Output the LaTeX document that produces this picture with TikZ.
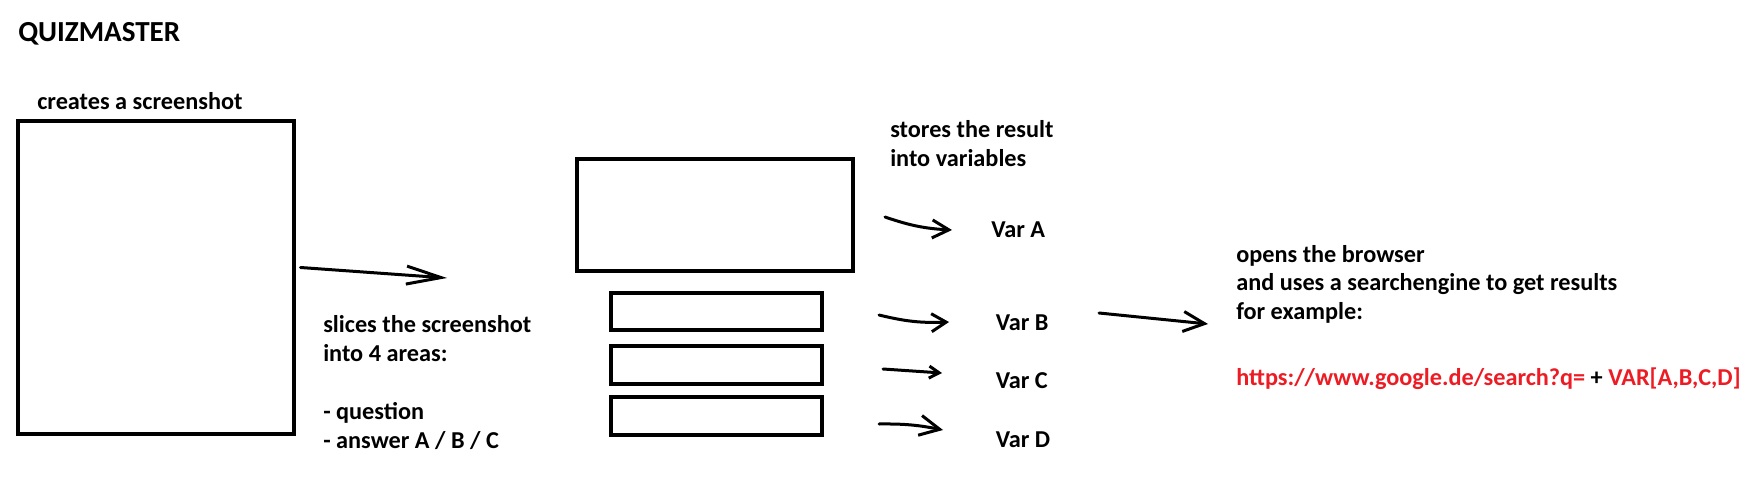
\documentclass[tikz,border=0pt]{standalone}
\usepackage{fontspec}
\setmainfont{Carlito}
\usetikzlibrary{arrows.meta}
\definecolor{paintred}{RGB}{237,28,36}

\begin{document}
\begin{tikzpicture}[x=0.75pt,y=-0.75pt,
	txt/.style={inner sep=0,anchor=base west,align=left,font={\bfseries\fontsize{18.2}{21.75}\selectfont}},
	frame/.style={draw,line width=3pt,inner sep=0},
	sketch/.style 2 args={line width=2.25pt,line cap=round,line join=round,-{Straight Barb[length=#1,width=#2]}}]
	\useasboundingbox (0,0) rectangle (1752,502);

	\node[txt,font={\bfseries\fontsize{21.8}{24}\selectfont}] (title) at (18,42) {QUIZMASTER};

	\node[frame,minimum width=207pt,minimum height=234.75pt] (shot) at (155.5,277.5) {};
	\node[txt] (shotText) at (37,110) {creates a screenshot};

	\node[frame,minimum width=207pt,minimum height=84pt] (sliceQ) at (715,215) {};
	\node[frame,minimum width=158.25pt,minimum height=27.75pt] (sliceA) at (716.5,311.5) {};
	\node[frame,minimum width=158.25pt,minimum height=28.5pt] (sliceB) at (716.5,365) {};
	\node[frame,minimum width=158.25pt,minimum height=28.5pt] (sliceC) at (716.5,416) {};

	\node[txt] (sliceText) at (323,448) {slices the screenshot\\into 4 areas:\\[21.75pt]- question\\- answer A / B / C};
	\node[txt] (storeText) at (890,167) {stores the result\\into variables};

	\node[txt] (varA) at (991,238) {Var A};
	\node[txt] (varB) at (995.5,330) {Var B};
	\node[txt] (varC) at (995.5,388) {Var C};
	\node[txt] (varD) at (995.5,447) {Var D};

	\node[txt] (browserText) at (1236,320) {opens the browser\\and uses a searchengine to get results\\for example:};
	\node[txt,text=paintred] (url) at (1236,385) {https://www.google.de/search?q= \textcolor{black}{+} VAR[A,B,C,D]};

	\coordinate (cutEnd) at (447,278);
	\draw[sketch={26pt}{13.5pt}] ([shift={(5,-10)}]shot.east) -- (cutEnd);

	\coordinate (inA) at (885,217);
	\coordinate (outA) at (952,230);
	\coordinate (inB) at (879,315);
	\coordinate (outB) at (949,322);
	\coordinate (inC) at (883,369);
	\coordinate (outC) at (942,373);
	\coordinate (inD) at (879,424);
	\coordinate (outD) at (943,430);
	\draw[sketch={12.5pt}{13.5pt}] (inA) to[bend right=8] (outA);
	\draw[sketch={11pt}{13.5pt}] (inB) to[bend right=8] (outB);
	\draw[sketch={7.5pt}{9pt}] (inC) -- (outC);
	\draw[sketch={15pt}{15pt}] (inD) to[bend left=6] (outD);

	\coordinate (inE) at (1099,313);
	\coordinate (outE) at (1208,324);
	\draw[sketch={16pt}{15pt}] (inE) -- (outE);
\end{tikzpicture}
\end{document}
